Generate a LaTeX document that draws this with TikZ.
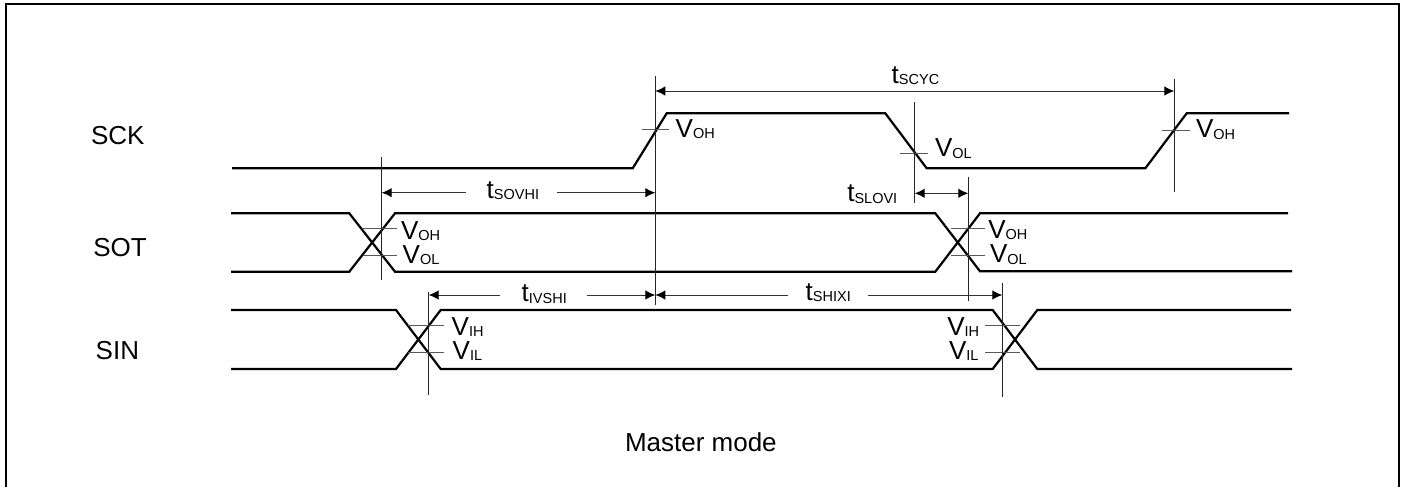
\documentclass[tikz,border=0pt]{standalone}
\usepackage{fontspec}
\setmainfont{Liberation Sans}
\usetikzlibrary{arrows.meta}
\newcommand{\lowtext}[1]{\raisebox{-1.3pt}{\fontsize{14.5}{16}\selectfont #1}}
\tikzset{
  frameline/.style={line width=2.3pt,black},
  wave/.style={line width=2.2pt,black,miter limit=10},
  guide/.style={line width=1pt,black!85},
  tick/.style={line width=1pt,black!65},
  dimline/.style={line width=1pt,black!80,{Latex[length=10pt,width=9.5pt,black]}-{Latex[length=10pt,width=9.5pt,black]}},
  dimleft/.style={line width=1pt,black!80,{Latex[length=10pt,width=9.5pt,black]}-},
  dimright/.style={line width=1pt,black!80,-{Latex[length=10pt,width=9.5pt,black]}},
  lab/.style={anchor=base west,inner sep=0pt,outer sep=0pt,font=\fontsize{26}{30}\selectfont},
}
\begin{document}
\begin{tikzpicture}[x=1pt,y=-1pt]
\useasboundingbox (0,0) rectangle (1404,487);
\fill[white] (0,0) rectangle (1404,487);
% frame (open at the bottom)
\draw[frameline] (6,487) -- (6,4) -- (1399,4) -- (1399,487);
% waveforms
\draw[wave] (232,168.3) -- (632.7,168.3) -- (666.7,113.3) -- (885.3,113.3) -- (926.7,168.3) -- (1145.3,168.3) -- (1186.7,113.3) -- (1289,113.3);
\draw[wave] (231,213.3) -- (349.3,213.3) -- (395,271.7) -- (935.3,271.7) -- (980,213.3) -- (1288,213.3);
\draw[wave] (231,271.7) -- (349.3,271.7) -- (395,213.3) -- (935.3,213.3) -- (980,271.3) -- (1292,271.3);
\draw[wave] (231,310) -- (396,310) -- (440.7,369) -- (992.7,369) -- (1037.3,310) -- (1291,310);
\draw[wave] (231,369) -- (396,369) -- (440.7,310) -- (992.7,310) -- (1037.3,369) -- (1292,369);
% threshold ticks
\draw[tick] (641.7,129.7) -- (669,129.7);
\draw[tick] (900,153.7) -- (927.7,153.7);
\draw[tick] (1162.3,130) -- (1190,130);
\draw[tick] (363.3,228.7) -- (396.7,228.7);
\draw[tick] (363.3,255.7) -- (396.7,255.7);
\draw[tick] (950.7,228.7) -- (985.3,228.7);
\draw[tick] (950.7,255.7) -- (985.3,255.7);
\draw[tick] (408,325.7) -- (443.7,325.7);
\draw[tick] (408,352.7) -- (443.7,352.7);
\draw[tick] (985.3,325.7) -- (1020,325.7);
\draw[tick] (985.3,352.7) -- (1020,352.7);
% guide lines
\coordinate (ga1) at (381.7,156.7); \coordinate (ga2) at (381.7,280);
\coordinate (gb1) at (655.3,76);    \coordinate (gb2) at (655.3,305);
\coordinate (gc1) at (428.7,291.7); \coordinate (gc2) at (428.7,395);
\coordinate (gd1) at (914.7,101.7); \coordinate (gd2) at (914.7,203.3);
\coordinate (ge1) at (968.3,176.7); \coordinate (ge2) at (968.3,300.7);
\coordinate (gf1) at (1002.3,282.7);\coordinate (gf2) at (1002.3,396.7);
\coordinate (gg1) at (1174.3,79);   \coordinate (gg2) at (1174.3,191.7);
\draw[guide] (ga1) -- (ga2);
\draw[guide] (gb1) -- (gb2);
\draw[guide] (gc1) -- (gc2);
\draw[guide] (gd1) -- (gd2);
\draw[guide] (ge1) -- (ge2);
\draw[guide] (gf1) -- (gf2);
\draw[guide] (gg1) -- (gg2);
% signal names
\node[lab] (nsck) at (91,144) {SCK};
\node[lab] (nsot) at (93.3,256) {SOT};
\node[lab] (nsin) at (95.7,359.3) {SIN};
\node[lab] (nmode) at (625,451.7) {Master mode};
% timing labels
\node[lab] (tcyc) at (891.7,83.3) {t\lowtext{SCYC}};
\node[lab] (tsov) at (486.7,198.3) {t\lowtext{SOVHI}};
\node[lab] (tslo) at (847.3,201.7) {t\lowtext{SLOVI}};
\node[lab] (tivs) at (521.7,301.7) {t\lowtext{IVSHI}};
\node[lab] (tshi) at (805.7,300) {t\lowtext{SHIXI}};
% dimension arrows
\draw[dimline] (gb1 |- 0,91) -- (gg1 |- 0,91);
\coordinate (sovl) at (465.7,192.7); \coordinate (sovr) at (557.3,192.7);
\draw[dimleft] (ga1 |- sovl) -- (sovl);
\draw[dimright] (sovr) -- (gb1 |- sovr);
\draw[dimline] (gd1 |- 0,193.3) -- (ge1 |- 0,193.3);
\coordinate (ivsl) at (500,295); \coordinate (ivsr) at (586.7,295);
\draw[dimleft] (gc1 |- ivsl) -- (ivsl);
\draw[dimright] (ivsr) -- (gb1 |- ivsr);
\coordinate (shil) at (787.7,295); \coordinate (shir) at (868.3,295);
\draw[dimleft] (gb1 |- shil) -- (shil);
\draw[dimright] (shir) -- (gf1 |- shir);
% threshold labels
\node[lab] (v1) at (675.7,137.5) {V\lowtext{OH}};
\node[lab] (v2) at (935,156.7) {V\lowtext{OL}};
\node[lab] (v3) at (1196,137.7) {V\lowtext{OH}};
\node[lab] (v4) at (401,239.3) {V\lowtext{OH}};
\node[lab] (v5) at (402.7,263.3) {V\lowtext{OL}};
\node[lab] (v6) at (988.3,238.5) {V\lowtext{OH}};
\node[lab] (v7) at (990,262.7) {V\lowtext{OL}};
\node[lab] (v8) at (451.7,335) {V\lowtext{IH}};
\node[lab] (v9) at (452.7,359) {V\lowtext{IL}};
\node[lab] (v10) at (947.3,335) {V\lowtext{IH}};
\node[lab] (v11) at (949,359.3) {V\lowtext{IL}};
\end{tikzpicture}
\end{document}
